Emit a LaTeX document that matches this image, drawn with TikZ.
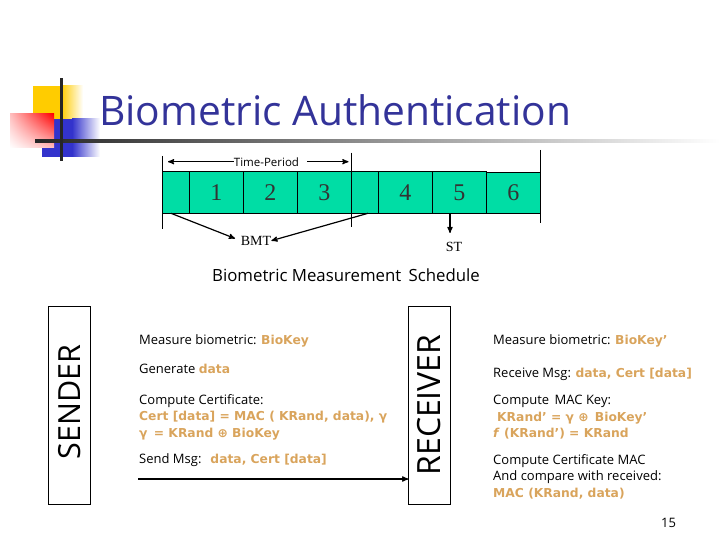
\documentclass[tikz,border=0pt]{standalone}
\usepackage{fontspec}
\setmainfont{Open Sans}
\newfontfamily\timesfont{Liberation Serif}
\newfontfamily\keyfont{DejaVu Sans}
\usetikzlibrary{arrows,positioning,shadings}
\definecolor{titleblue}{HTML}{333399}
\definecolor{cellgreen}{HTML}{00DDA5}
\definecolor{keyorange}{HTML}{D9A45C}
\definecolor{logoyellow}{HTML}{FFCC00}
\definecolor{logoblue}{HTML}{3333CC}
\newcommand{\key}[1]{\textcolor{keyorange}{\keyfont\fontsize{12.3}{16.4}\selectfont\bfseries #1}}
\tikzset{
    %Define standard arrow tip
    >=stealth',
    %Define style for boxes
    slot/.style={
           rectangle,
           draw=black, line width=.7pt,
           fill=cellgreen,
           outer sep=0pt,
           minimum width=54pt,
           minimum height=41.6pt,
           font=\timesfont\fontsize{24}{24}\selectfont,
           text=black!80,
           text centered},
    blankslot/.style={
           slot,
           minimum width=27pt},
    tag/.style={
           font=\timesfont\fontsize{14}{14}\selectfont,
           inner sep=0pt},
    party/.style={
           rectangle,
           draw=black, line width=.8pt,
           outer sep=0pt,
           rotate=90,
           minimum width=198pt,
           minimum height=42.5pt,
           font=\fontsize{32}{32}\selectfont},
    step text/.style={
           anchor=base west,
           align=left,
           inner sep=0pt,
           font=\fontsize{13}{16.4}\selectfont},
    % Define arrow style
    pil/.style={
           ->,
           line width=1.2pt},
    tick/.style={
           line width=.8pt}
}
\begin{document}
\begin{tikzpicture}[x=1pt,y=-1pt]
\useasboundingbox (0,0) rectangle (720,540);
% logo
\fill[logoyellow] (33,86) rectangle (61,120);
\shade[left color=logoyellow,right color=white] (61,86) rectangle (83,120);
\fill[logoblue] (42,119) rectangle (72,157);
\shade[left color=logoblue,right color=white] (72,119) rectangle (100,157);
\shade[shading=bilinear interpolation,upper right=red,upper left=red!25,lower right=red!25,lower left=white] (10,114) rectangle (54,148);
\shade[left color=black!85,middle color=black!45,right color=white] (35,139.8) rectangle (720,142.8);
\fill[black!85] (59.5,78) rectangle (62.5,161);
\node[anchor=base west,inner sep=0pt,text=titleblue,font=\fontsize{40.7}{41}\selectfont] (title) at (99,126) {Biometric Authentication};
% schedule
\node[blankslot,anchor=north west] (slot0) at (162.3,171.7) {};
\node[slot,right=0pt of slot0] (slot1) {1};
\node[slot,right=0pt of slot1] (slot2) {2};
\node[slot,right=0pt of slot2] (slot3) {3};
\node[blankslot,right=0pt of slot3] (slotx) {};
\node[slot,right=0pt of slotx] (slot4) {4};
\node[slot,right=0pt of slot4] (slot5) {5};
\node[slot,right=0pt of slot5,minimum height=40.6pt,yshift=-.5pt] (slot6) {6};
\coordinate (tick1) at (162.3,156);
\coordinate (tick1b) at (162.3,229);
\coordinate (tick2) at (351.3,152.7);
\coordinate (tick2b) at (351.3,226.7);
\coordinate (tick3) at (540.3,150);
\coordinate (tick3b) at (540.3,223);
\draw[tick] (tick1) -- (tick1b);
\draw[tick] (tick2) -- (tick2b);
\draw[tick] (tick3) -- (tick3b);
\node[inner sep=0pt,font=\fontsize{11.5}{12}\selectfont] (period) at (266.5,161.7) {Time-Period};
\coordinate (periodl) at (168,161.7);
\coordinate (periodr) at (348.5,161.7);
\draw[pil,<-] (periodl) -- (period.west);
\draw[pil] ([xshift=8pt]period.east) -- (periodr);
\node[tag] (bmt) at (256,240.7) {BMT};
\node[tag] (st) at (454,246.7) {ST};
\coordinate (bmtl) at (171,213.3);
\coordinate (bmtr) at (368,213.3);
\coordinate (stfrom) at (450,213.3);
\coordinate (stto) at (450,233);
\draw[pil,shorten >=6pt] (bmtl) -- (bmt.west);
\draw[pil] (bmtr) -- (bmt.east);
\draw[pil] (stfrom) -- (stto);
\node[inner sep=0pt,font=\fontsize{16.8}{18}\selectfont] (caption) at (346,275) {Biometric Measurement\, Schedule};
% parties
\node[party] (sender) at (69.5,405) {\hspace*{6pt}\fontsize{30.5}{32}\selectfont SENDER};
\node[party] (receiver) at (429.5,405) {RECEIVER};
% sender steps
\node[step text] (s1) at (139,344) {Measure biometric: \key{BioKey}};
\node[step text] (s2) at (139,373.3) {Generate \key{data}};
\node[step text] (s3) at (139,437) {Compute Certificate:\\\key{Cert [data] = MAC ( KRand, data), γ}\\\key{γ\, = KRand ⊕ BioKey}};
\node[step text] (s4) at (139,463) {Send Msg:\hspace{9pt}\key{data, Cert [data]}};
\coordinate (msg) at (138,479);
\draw[pil] (msg) -- (msg -| receiver.north);
% receiver steps
\node[step text] (r1) at (493,344) {Measure biometric: \key{BioKey’}};
\node[step text] (r2) at (493,377) {Receive Msg: \key{data, Cert [data]}};
\node[step text] (r3) at (493,437.7) {Compute\, MAC Key:\\\hspace*{4pt}\key{KRand’ = γ ⊕\, BioKey’}\\\key{\textit{f} (KRand’) = KRand}};
\node[step text] (r4) at (493,497) {Compute Certificate MAC\\And compare with received:\\\key{MAC (KRand, data)}};
\node[step text] (page) at (661,527) {15};
\end{tikzpicture}
\end{document}
